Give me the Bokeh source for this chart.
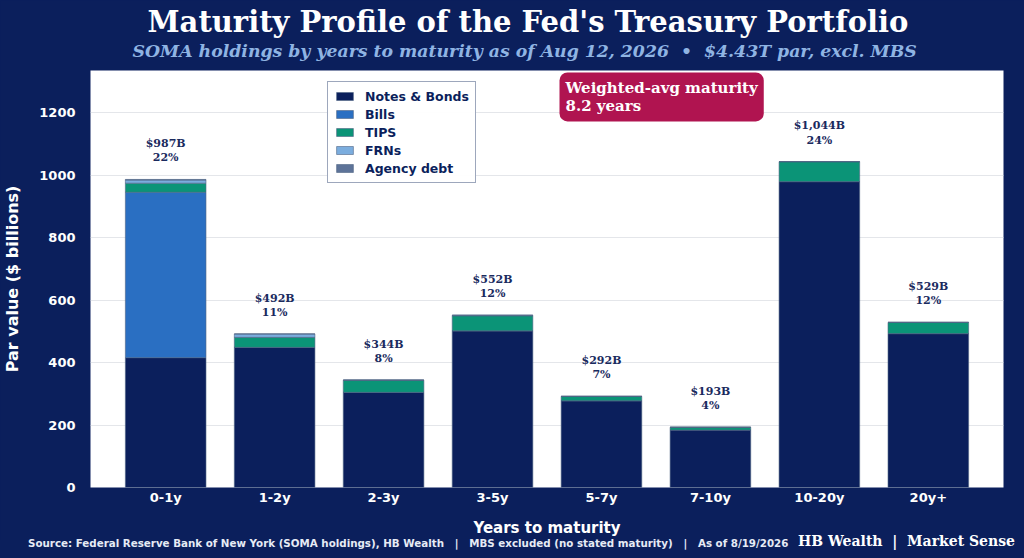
from bokeh.plotting import figure
from bokeh.layouts import column
from bokeh.models import (ColumnDataSource, FactorRange, Range1d, Label, Title,
                          SingleIntervalTicker, Div)
from bokeh.core.properties import value
from bokeh.embed import file_html
from bokeh.resources import INLINE

# maturity buckets and SOMA par holdings ($ billions)
buckets = ["0-1y", "1-2y", "2-3y", "3-5y", "5-7y", "7-10y", "10-20y", "20y+"]
notes_bonds = [416, 449, 305, 502, 278, 184, 980, 493]
bills = [530, 0, 0, 0, 0, 0, 0, 0]
tips = [29, 32, 39, 48, 14, 9, 64, 36]
frns = [10, 11, 0, 2, 0, 0, 0, 0]
agency = [2, 0, 0, 0, 0, 0, 0, 0]

series = ["notes_bonds", "bills", "tips", "frns", "agency"]
series_names = ["Notes & Bonds", "Bills", "TIPS", "FRNs", "Agency debt"]
colors = ["#0b1f5c", "#2a6fc2", "#0b9477", "#7badde", "#5d7398"]

NAVY = "#0b1f5c"

totals = [sum(v) for v in zip(notes_bonds, bills, tips, frns, agency)]
grand = sum(totals)
labels = [f"${t:,}B\n{round(100 * t / grand)}%" for t in totals]

source = ColumnDataSource(dict(
    bucket=buckets, notes_bonds=notes_bonds, bills=bills, tips=tips,
    frns=frns, agency=agency, total=totals, lbl=labels,
))

p = figure(
    x_range=FactorRange(factors=buckets, range_padding=0.0475),
    y_range=Range1d(0, 1336),
    width=1024, height=540, title=None,
    output_backend="svg", toolbar_location=None,
    min_border_left=88, min_border_right=21, min_border_top=70, min_border_bottom=53,
)
p.background_fill_color = "white"
p.border_fill_color = NAVY
p.outline_line_color = None

p.vbar_stack(series, x="bucket", width=0.74, color=colors, source=source,
             line_color="#4f6485", line_width=0.6, legend_label=series_names)

# total / share labels over each bar
p.text(x="bucket", y="total", text="lbl", source=source, y_offset=-15,
       text_align="center", text_baseline="bottom",
       text_font=value("DejaVu Serif"), text_font_style="bold",
       text_font_size="11px", text_color="#1a2a5e", text_line_height=1.1)

# axes
p.xgrid.grid_line_color = None
p.ygrid.grid_line_color = "#e4e6ea"
p.yaxis.ticker = SingleIntervalTicker(interval=200)
for ax in (p.xaxis[0], p.yaxis[0]):
    ax.axis_line_color = None
    ax.major_tick_line_color = None
    ax.minor_tick_line_color = None
    ax.major_tick_out = 0
    ax.major_label_text_color = "white"
    ax.major_label_text_font = "DejaVu Sans"
    ax.major_label_text_font_style = "bold"
    ax.major_label_text_font_size = "13px"
    ax.axis_label_text_color = "white"
    ax.axis_label_text_font = "DejaVu Sans"
    ax.axis_label_text_font_style = "bold"
p.xaxis.axis_label = "Years to maturity"
p.xaxis.axis_label_text_font_size = "15px"
p.xaxis.major_label_standoff = 2
p.xaxis.axis_label_standoff = 11
p.yaxis.axis_label = "Par value ($ billions)"
p.yaxis.axis_label_text_font_size = "16px"
p.yaxis.major_label_standoff = 11
p.yaxis.axis_label_standoff = 14

# legend
lg = p.legend[0]
lg.location = (237, 304)
lg.label_text_font = "DejaVu Sans"
lg.label_text_font_style = "bold"
lg.label_text_font_size = "12.5px"
lg.label_text_color = NAVY
lg.label_height = 16
lg.glyph_height = 10
lg.glyph_width = 21
lg.label_standoff = 10
lg.spacing = 2
lg.padding = 6
lg.margin = 0
lg.border_line_color = "#3b4f7a"
lg.border_line_width = 1
lg.background_fill_alpha = 0.95

# weighted-avg maturity callout
p.add_layout(Label(
    x=469, y=415, x_units="screen", y_units="screen",
    text="Weighted-avg maturity\n8.2 years",
    text_align="left", text_baseline="top",
    text_font="DejaVu Serif", text_font_style="bold", text_font_size="15px",
    text_color="white", text_line_height=1.05,
    background_fill_color="#b01450", padding=6, border_radius=8,
))

# title, subtitle (first added sits nearest the frame)
p.add_layout(Title(
    text="SOMA holdings by years to maturity as of Aug 12, 2026\u00a0\u00a0\u2022\u00a0\u00a0$4.43T par, excl. MBS",
    align="left", offset=42, text_font="DejaVu Serif", text_font_style="bold italic",
    text_font_size="17.3px", text_color="#8fb4e3", standoff=19,
), "above")
p.add_layout(Title(
    text="Maturity Profile of the Fed's Treasury Portfolio",
    align="left", offset=57, text_font="DejaVu Serif", text_font_style="bold",
    text_font_size="29px", text_color="white", standoff=-18,
), "above")

# footer line
footer = Div(
    width=1024, height=18,
    text=(
        '<div style="display:flex;justify-content:space-between;align-items:center;'
        'width:1024px;height:6px;position:relative;top:-5px;box-sizing:border-box;'
        'padding:0 9px 0 28px;">'
        '<span style="font-family:\'DejaVu Sans\';font-weight:bold;font-size:10.3px;color:#e6ebf5;">'
        'Source: Federal Reserve Bank of New York (SOMA holdings), HB Wealth'
        '&nbsp;&nbsp;&nbsp;|&nbsp;&nbsp;&nbsp;MBS excluded (no stated maturity)'
        '&nbsp;&nbsp;&nbsp;|&nbsp;&nbsp;&nbsp;As of 8/19/2026</span>'
        '<span style="font-family:\'DejaVu Serif\';font-weight:bold;font-size:14px;color:white;'
        'position:relative;top:-2px;">'
        'HB Wealth&nbsp;&nbsp;|&nbsp;&nbsp;Market Sense</span></div>'
    ),
    styles={"background-color": NAVY, "margin": "0"},
)

layout = column(p, footer, spacing=0, styles={"background-color": NAVY})

html = file_html(layout, INLINE).replace("<body>", '<body style="background-color:#0b1f5c;">')
open("out.html", "w").write(html)
